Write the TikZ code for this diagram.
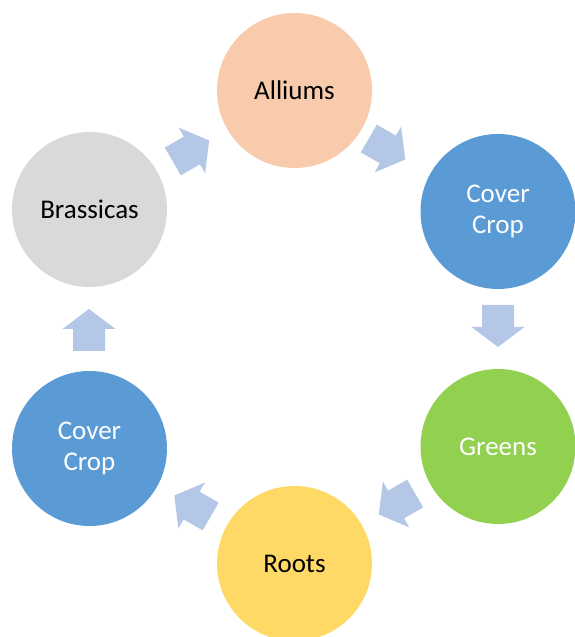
\documentclass[tikz,border=0pt]{standalone}
\usepackage{fontspec}
\setmainfont{Carlito}
\definecolor{peach}{HTML}{F8CBAD}
\definecolor{cblue}{HTML}{5B9BD5}
\definecolor{cgrey}{HTML}{D9D9D9}
\definecolor{cgreen}{HTML}{92D050}
\definecolor{cyellow}{HTML}{FFD966}
\definecolor{arrowblue}{HTML}{B4C7E7}
\begin{document}
\begin{tikzpicture}[x=1pt,y=1pt,
  stage/.style={circle,minimum size=155pt,inner sep=0pt,align=center,
    font=\fontsize{27}{31}\selectfont},
  blockarrow/.style={fill=arrowblue,draw=none}]
\useasboundingbox (0,0) rectangle (574,637);
\node[stage,fill=peach,text=black] (alliums) at (294.5,546.5) {Alliums};
\node[stage,fill=cblue,text=white] (coverR) at (498,425.5) {Cover\\Crop};
\node[stage,fill=cgreen,text=white] (greens) at (498,190.5) {Greens};
\node[stage,fill=cyellow,text=black] (roots) at (294.5,73.5) {Roots};
\node[stage,fill=cblue,text=white] (coverL) at (89.5,188.5) {Cover\\Crop};
\node[stage,fill=cgrey,text=black] (brassicas) at (89.5,427.5) {Brassicas};
\foreach \cx/\cy/\ang in {191/486/30, 387/488/-30, 498/311/-90, 397/133/210, 192.5/131/150, 89/307/90}{
  \fill[blockarrow,shift={(\cx,\cy)},rotate=\ang]
    (-21,-16) -- (1,-16) -- (1,-26.5) -- (21,0) -- (1,26.5) -- (1,16) -- (-21,16) -- cycle;
}
\end{tikzpicture}
\end{document}
